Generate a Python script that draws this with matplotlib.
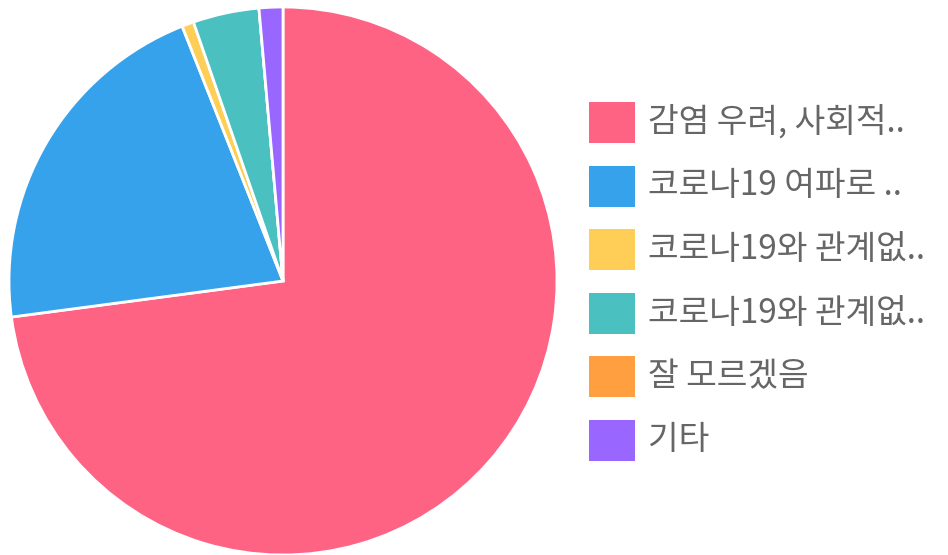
import matplotlib
matplotlib.use("Agg")
import matplotlib.pyplot as plt
from matplotlib.patches import Rectangle

plt.rcParams['font.family'] = ['Noto Sans CJK KR', 'DejaVu Sans']

# survey answers (percent of respondents)
labels = ['감염 우려, 사회적..', '코로나19 여파로 ..', '코로나19와 관계없..',
          '코로나19와 관계없..', '잘 모르겠음', '기타']
values = [72.9, 21.1, 0.7, 3.9, 0.0, 1.4]
colors = ['#FF6384', '#36A2EB', '#FFCE56', '#4BC0C0', '#FF9F40', '#9966FF']

W, H = 948, 555
fig = plt.figure(figsize=(W / 100, H / 100), dpi=100)

# pie area: centre (283, 281), radius 274 px
cx, cy, r = 283, 281, 274
ax = fig.add_axes([(cx - r) / W, (H - cy - r) / H, 2 * r / W, 2 * r / H])
ax.pie(values, colors=colors, startangle=90, counterclock=False,
       wedgeprops=dict(edgecolor='white', linewidth=2.0))
ax.set_aspect('equal')
ax.set_xlim(-1, 1)
ax.set_ylim(-1, 1)

# legend drawn by hand on the right
box_x, box_w, box_h = 589, 46, 41
row0, pitch = 122.5, 63.5
for i, (lab, col) in enumerate(zip(labels, colors)):
    yc = row0 + i * pitch
    fig.patches.append(Rectangle((box_x / W, (H - yc - box_h / 2) / H),
                                 box_w / W, box_h / H, transform=fig.transFigure,
                                 facecolor=col, edgecolor='none'))
    fig.text(648 / W, (H - yc) / H, lab, fontsize=24, color='#666666',
             va='center', ha='left')

fig.savefig('out.png', dpi=100)
